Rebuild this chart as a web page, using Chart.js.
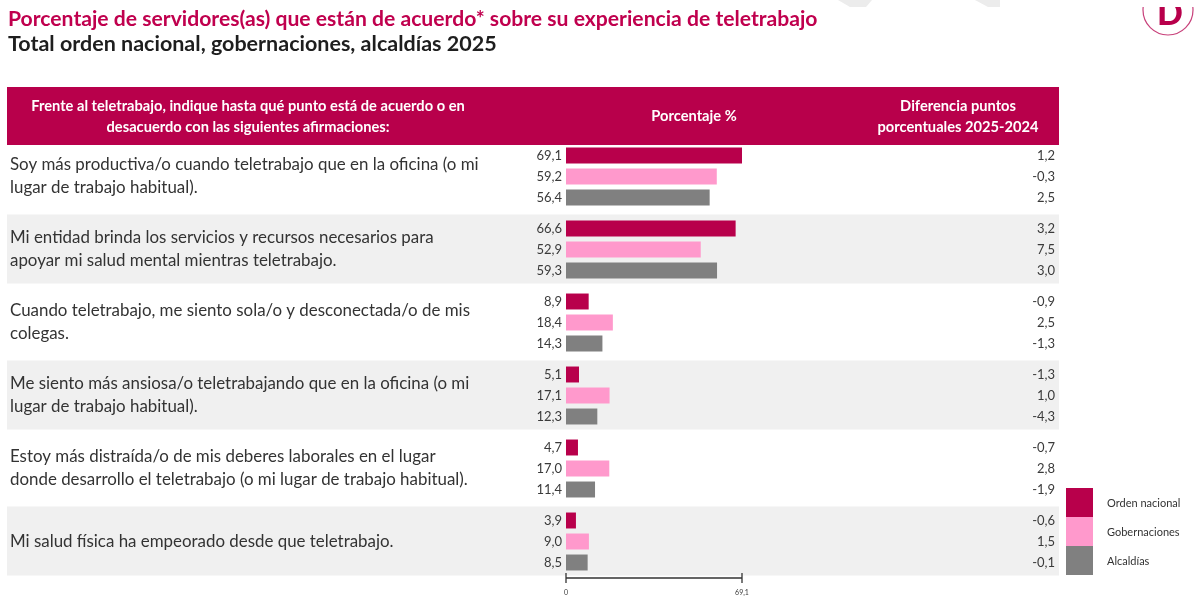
<!DOCTYPE html>
<html>
<head>
<meta charset="utf-8">
<script src="https://cdn.jsdelivr.net/npm/chart.js@4"></script>
<style>
  html, body { margin: 0; padding: 0; background: #fff; }
  #chart { display: block; }
</style>
</head>
<body>
<canvas id="chart" width="1201" height="598"></canvas>
<script>
// statements (one entry per row, split in lines as in the report)
const categories = [
    ['Soy más productiva/o cuando teletrabajo que en la oficina (o mi', 'lugar de trabajo habitual).'],
    ['Mi entidad brinda los servicios y recursos necesarios para', 'apoyar mi salud mental mientras teletrabajo.'],
    ['Cuando teletrabajo, me siento sola/o y desconectada/o de mis', 'colegas.'],
    ['Me siento más ansiosa/o teletrabajando que en la oficina (o mi', 'lugar de trabajo habitual).'],
    ['Estoy más distraída/o de mis deberes laborales en el lugar', 'donde desarrollo el teletrabajo (o mi lugar de trabajo habitual).'],
    ['Mi salud física ha empeorado desde que teletrabajo.']
];
const seriesNames = ['Orden nacional', 'Gobernaciones', 'Alcaldías'];
const ordenNacional = [69.1, 66.6, 8.9, 5.1, 4.7, 3.9];
const gobernaciones = [59.2, 52.9, 18.4, 17.1, 17.0, 9.0];
const alcaldias = [56.4, 59.3, 14.3, 12.3, 11.4, 8.5];
const diffOrden = [1.2, 3.2, -0.9, -1.3, -0.7, -0.6];
const diffGob = [-0.3, 7.5, 2.5, 1.0, 2.8, 1.5];
const diffAlc = [2.5, 3.0, -1.3, -4.3, -1.9, -0.1];
const axisTicks = [0, 69.1];

const CRIMSON = '#b8004b';
const PINK = '#ff99cc';
const GREY = '#808080';
const FONT = 'Lato, "Open Sans", sans-serif';

function fmt(v) {
    return v.toFixed(1).replace('.', ',');
}

// pick a font size so a reference string fills a given width
function fitSize(ctx, text, weight, width) {
    ctx.font = weight + ' 100px ' + FONT;
    return 100 * width / ctx.measureText(text).width;
}

const tablePlugin = {
    id: 'tablePlugin',
    beforeDraw(chart) {
        const ctx = chart.ctx;
        const y = chart.scales.y;
        ctx.save();
        ctx.fillStyle = '#fff';
        ctx.fillRect(0, 0, chart.width, chart.height);

        // faint leftovers of the slide above
        ctx.fillStyle = '#ececec';
        ctx.beginPath();
        ctx.moveTo(838, 0); ctx.lineTo(872, 0); ctx.lineTo(866, 7); ctx.lineTo(850, 7); ctx.closePath();
        ctx.moveTo(975, 0); ctx.lineTo(1000, 0); ctx.lineTo(1000, 7); ctx.lineTo(988, 7); ctx.closePath();
        ctx.fill();

        // titles
        ctx.textBaseline = 'middle';
        ctx.textAlign = 'left';
        let s = fitSize(ctx, 'Porcentaje de servidores(as) que están de acuerdo* sobre su experiencia de teletrabajo', 'bold', 810);
        ctx.font = 'bold ' + s + 'px ' + FONT;
        ctx.fillStyle = '#c0004e';
        ctx.fillText('Porcentaje de servidores(as) que están de acuerdo* sobre su experiencia de teletrabajo', 8, 19);
        s = fitSize(ctx, 'Total orden nacional, gobernaciones, alcaldías 2025', 'bold', 489);
        ctx.font = 'bold ' + s + 'px ' + FONT;
        ctx.fillStyle = '#1e1e1e';
        ctx.fillText('Total orden nacional, gobernaciones, alcaldías 2025', 8, 44);

        // logo, cut at the top
        ctx.save();
        ctx.beginPath();
        ctx.rect(1100, 7, 101, 40);
        ctx.clip();
        ctx.strokeStyle = '#c8407a';
        ctx.lineWidth = 1.2;
        ctx.beginPath();
        ctx.arc(1168, 10, 25, 0, Math.PI * 2);
        ctx.stroke();
        ctx.fillStyle = CRIMSON;
        ctx.font = '900 34px ' + FONT;
        ctx.textAlign = 'center';
        ctx.textBaseline = 'alphabetic';
        ctx.fillText('D', 1170, 25);
        ctx.restore();

        // header band
        ctx.fillStyle = CRIMSON;
        ctx.fillRect(7, 87, 1052, 58);
        ctx.fillStyle = '#fff';
        ctx.textAlign = 'center';
        s = fitSize(ctx, 'Frente al teletrabajo, indique hasta qué punto está de acuerdo o en', 'bold', 434);
        ctx.font = 'bold ' + s + 'px ' + FONT;
        ctx.fillText('Frente al teletrabajo, indique hasta qué punto está de acuerdo o en', 248, 106);
        ctx.fillText('desacuerdo con las siguientes afirmaciones:', 248, 127);
        ctx.fillText('Porcentaje %', 694, 116);
        ctx.fillText('Diferencia puntos', 958, 106);
        ctx.fillText('porcentuales 2025-2024', 958, 127);

        // row bands and statements
        s = fitSize(ctx, categories[0][0], 'normal', 469);
        categories.forEach((lines, i) => {
            const cy = y.getPixelForValue(i);
            if (i % 2 === 1) {
                ctx.fillStyle = '#f0f0f0';
                ctx.fillRect(7, cy - 35, 1052, 69);
            }
            ctx.fillStyle = '#333';
            ctx.textAlign = 'left';
            ctx.font = s + 'px ' + FONT;
            const top = cy - (lines.length - 1) * 11.5;
            lines.forEach((ln, k) => ctx.fillText(ln, 10, top + k * 23));
        });
        ctx.restore();
    },
    afterDraw(chart) {
        const ctx = chart.ctx;
        const x = chart.scales.x;
        const diffs = [diffOrden, diffGob, diffAlc];
        ctx.save();
        ctx.textBaseline = 'middle';
        ctx.font = '13px ' + FONT;
        ctx.fillStyle = '#3a3a3a';
        chart.data.datasets.forEach((ds, d) => {
            chart.getDatasetMeta(d).data.forEach((bar, i) => {
                ctx.textAlign = 'right';
                ctx.fillText(fmt(ds.data[i]), x.left - 4, bar.y);
                ctx.fillText(fmt(diffs[d][i]), 1055, bar.y);
            });
        });

        // axis with two ticks
        const ay = chart.chartArea.bottom;
        const x0 = x.getPixelForValue(axisTicks[0]);
        const x1 = x.getPixelForValue(axisTicks[1]);
        ctx.strokeStyle = '#333';
        ctx.lineWidth = 1.3;
        ctx.beginPath();
        ctx.moveTo(x0, ay); ctx.lineTo(x1, ay);
        axisTicks.forEach(t => {
            const px = x.getPixelForValue(t);
            ctx.moveTo(px, ay - 5); ctx.lineTo(px, ay + 5);
        });
        ctx.stroke();
        ctx.font = '7px ' + FONT;
        ctx.textAlign = 'center';
        axisTicks.forEach(t => ctx.fillText(t === 0 ? '0' : fmt(t), x.getPixelForValue(t), 593));

        // legend
        chart.data.datasets.forEach((ds, d) => {
            const ly = 488 + d * 29;
            ctx.fillStyle = ds.backgroundColor;
            ctx.fillRect(1066, ly, 27, 29);
            ctx.fillStyle = '#333';
            ctx.textAlign = 'left';
            ctx.font = '11px ' + FONT;
            ctx.fillText(ds.label, 1107, ly + 15);
        });
        ctx.restore();
    }
};

new Chart(document.getElementById('chart'), {
    type: 'bar',
    data: {
        labels: categories,
        datasets: [
            { label: seriesNames[0], data: ordenNacional, backgroundColor: CRIMSON },
            { label: seriesNames[1], data: gobernaciones, backgroundColor: PINK },
            { label: seriesNames[2], data: alcaldias, backgroundColor: GREY }
        ]
    },
    options: {
        indexAxis: 'y',
        responsive: false,
        animation: false,
        categoryPercentage: 0.863,
        barPercentage: 0.76,
        layout: { padding: { left: 566, right: 459, top: 140, bottom: 20 } },
        scales: {
            x: { display: false, min: 0, max: 69.1 },
            y: { display: false }
        },
        plugins: { legend: { display: false }, tooltip: { enabled: false } }
    },
    plugins: [tablePlugin]
});
</script>
</body>
</html>
